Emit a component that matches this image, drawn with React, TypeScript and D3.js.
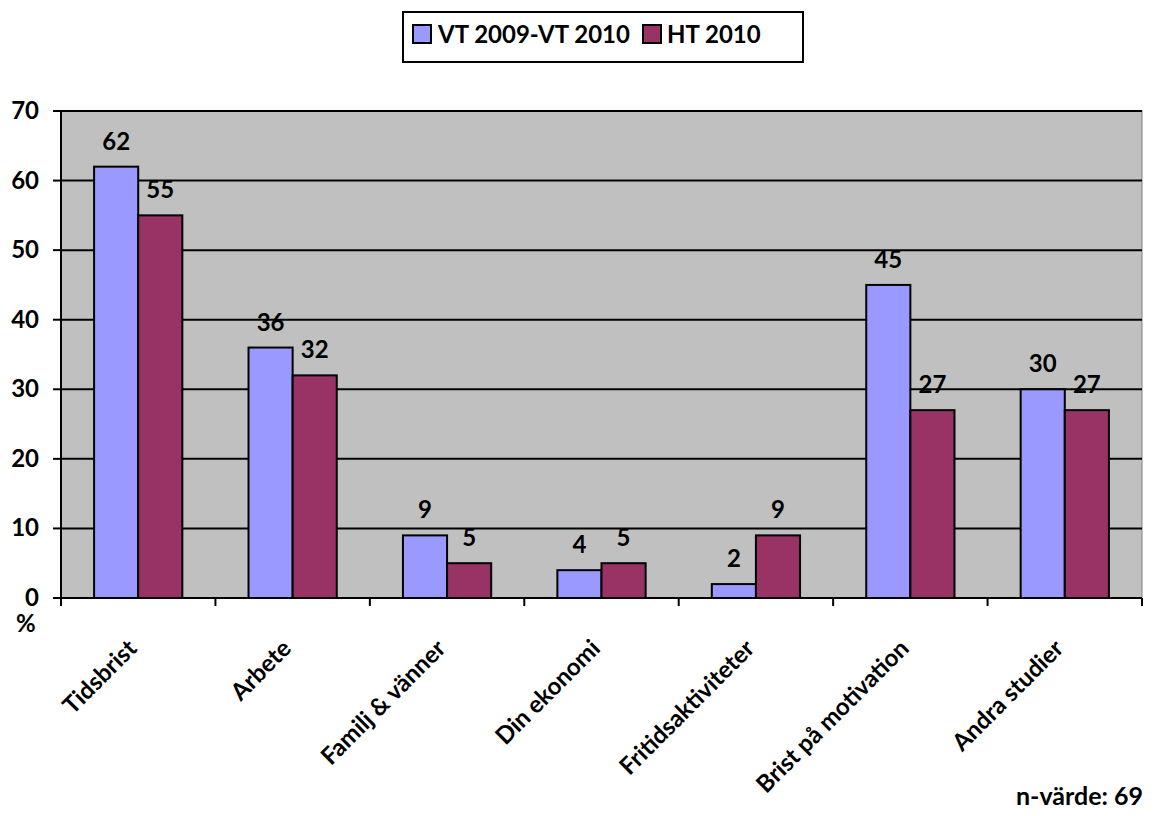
import React from "react";
import * as d3 from "d3";

const categories = ["Tidsbrist", "Arbete", "Familj & vänner", "Din ekonomi", "Fritidsaktiviteter", "Brist på motivation", "Andra studier"];
const seriesNames = ["VT 2009-VT 2010", "HT 2010"];
const series1 = [62, 36, 9, 4, 2, 45, 30];
const series2 = [55, 32, 5, 5, 9, 27, 27];
const colors = ["#9999FF", "#993366"];
const yTicks = [0, 10, 20, 30, 40, 50, 60, 70];

const W = 1154, H = 816;
const left = 61, right = 1142, top = 111, bottom = 598;
const FONT = "Lato, 'Open Sans', sans-serif";

export default function App() {
  const x = d3.scaleBand<string>().domain(categories).range([left, right]).paddingInner(0).paddingOuter(0);
  const y = d3.scaleLinear().domain([0, 70]).range([bottom, top]);
  const bw = x.bandwidth();
  const barW = bw / 3.5;
  const data = [series1, series2];

  return (
    <svg width={W} height={H} style={{ position: "absolute", left: 0, top: 0, background: "#fff" }} fontFamily={FONT}>
      <rect x={left} y={top} width={right - left} height={bottom - top} fill="#C0C0C0" stroke="#808080" strokeWidth={1} />
      {yTicks.filter(t => t > 0).map(t => (
        <line key={"g" + t} x1={left} x2={right} y1={y(t)} y2={y(t)} stroke="#000" strokeWidth={2} />
      ))}
      {categories.map((c, i) => (
        <g key={c}>
          {data.map((s, j) => {
            const bx = (x(c) as number) + bw * 0.75 / 3.5 + j * barW;
            return (
              <g key={j}>
                <rect x={bx} y={y(s[i])} width={barW} height={bottom - y(s[i])} fill={colors[j]} stroke="#000" strokeWidth={2} />
                <text x={bx + barW / 2} y={y(s[i]) - 17} textAnchor="middle" fontWeight="bold" fontSize={24} fill="#000">{s[i]}</text>
              </g>
            );
          })}
        </g>
      ))}
      {/* axes */}
      <line x1={left} x2={left} y1={top} y2={bottom} stroke="#000" strokeWidth={2} />
      <line x1={left} x2={right} y1={bottom} y2={bottom} stroke="#000" strokeWidth={2} />
      {yTicks.map(t => (
        <g key={"t" + t}>
          <line x1={left - 8} x2={left} y1={y(t)} y2={y(t)} stroke="#000" strokeWidth={2} />
          <text x={39} y={y(t) + 8} textAnchor="end" fontWeight="bold" fontSize={24} fill="#000">{t}</text>
        </g>
      ))}
      {categories.map((c, i) => (
        <line key={"xt" + i} x1={(x(c) as number)} x2={(x(c) as number)} y1={bottom} y2={bottom + 8} stroke="#000" strokeWidth={2} />
      ))}
      <line x1={right} x2={right} y1={bottom} y2={bottom + 8} stroke="#000" strokeWidth={2} />
      {categories.map(c => {
        const cx = (x(c) as number) + bw / 2;
        const cy = bottom + 52;
        return (
          <text key={"l" + c} transform={`translate(${cx},${cy}) rotate(-45)`} textAnchor="end" fontWeight="bold" fontSize={24} fill="#000">{c}</text>
        );
      })}
      <text x={16} y={632} fontWeight="bold" fontSize={24} fill="#000">%</text>
      <text x={1143} y={805} textAnchor="end" fontWeight="bold" fontSize={25} fill="#000">n-värde: 69</text>
      {/* legend */}
      <rect x={403} y={12} width={400} height={50} fill="#fff" stroke="#000" strokeWidth={2} />
      <rect x={413} y={25} width={18} height={18} fill={colors[0]} stroke="#000" strokeWidth={2} />
      <text x={438} y={43} fontWeight="bold" fontSize={24} fill="#000">{seriesNames[0]}</text>
      <rect x={643} y={25} width={18} height={18} fill={colors[1]} stroke="#000" strokeWidth={2} />
      <text x={667} y={43} fontWeight="bold" fontSize={24} fill="#000">{seriesNames[1]}</text>
    </svg>
  );
}
